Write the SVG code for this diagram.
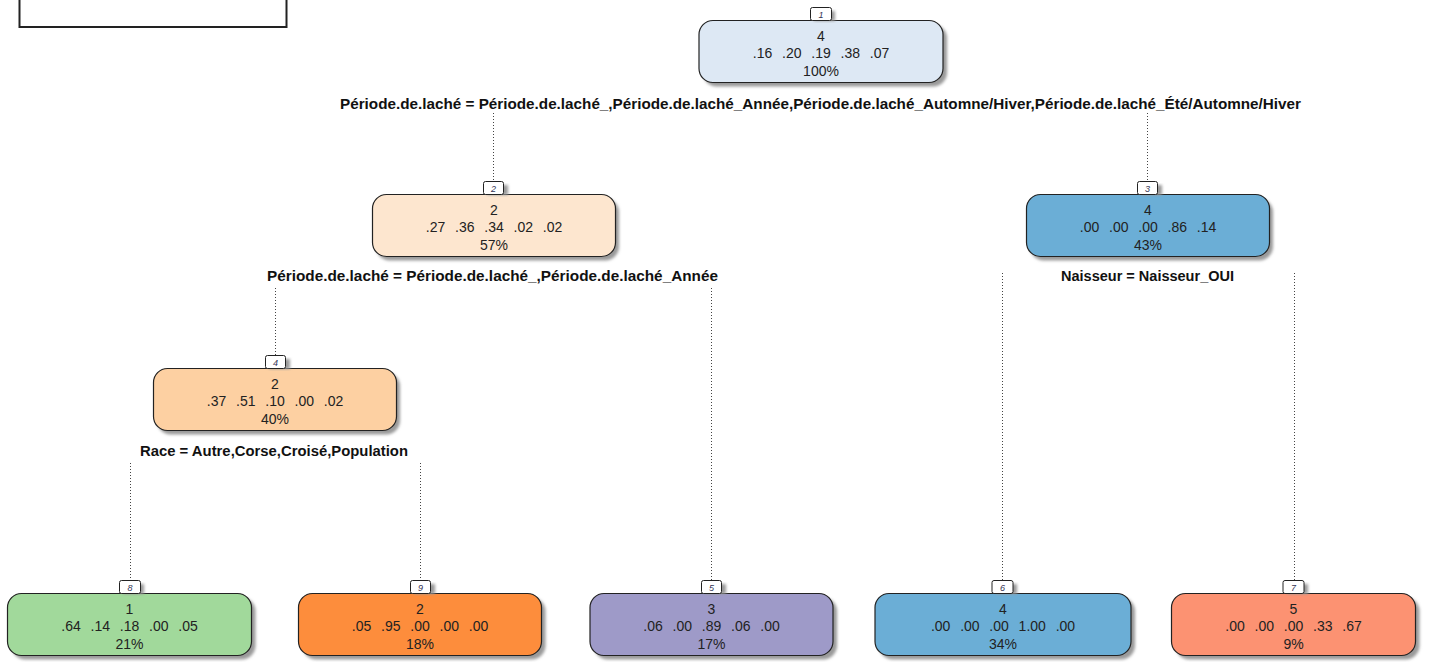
<svg xmlns="http://www.w3.org/2000/svg" width="1429" height="662" viewBox="0 0 1429 662">
<style>
.box{stroke:#222;stroke-width:1.2}
.sh{fill:#9a9a9a;filter:url(#blur)}
.lbl{fill:#fff;stroke:#222;stroke-width:1}
.num{font-family:"Liberation Sans",Arial,sans-serif;font-size:9px;font-style:italic;fill:#335;text-anchor:middle}
.t{font-family:"Liberation Sans",Arial,sans-serif;font-size:14px;fill:#222;text-anchor:middle;white-space:pre}
.r{word-spacing:1px}
.split{font-family:"Liberation Sans",Arial,sans-serif;font-size:14.5px;font-weight:bold;fill:#111;text-anchor:middle}
.dot{stroke:#444;stroke-width:1;stroke-dasharray:1 2;fill:none}
</style>
<defs>
<filter id="blur" x="-10%" y="-20%" width="120%" height="140%"><feGaussianBlur stdDeviation="1.5"/></filter>
</defs>
<rect width="1429" height="662" fill="#fff"/>
<rect x="19.5" y="-10" width="267" height="37" fill="#fff" stroke="#222" stroke-width="2"/>

<g id="connectors">
<line class="dot" x1="493.5" y1="113" x2="493.5" y2="181"/>
<line class="dot" x1="1147.5" y1="113" x2="1147.5" y2="181"/>
<line class="dot" x1="275.5" y1="288" x2="275.5" y2="355"/>
<line class="dot" x1="711.5" y1="288" x2="711.5" y2="580"/>
<line class="dot" x1="1002.5" y1="273" x2="1002.5" y2="580"/>
<line class="dot" x1="1294.5" y1="273" x2="1294.5" y2="580"/>
<line class="dot" x1="130.5" y1="463" x2="130.5" y2="580"/>
<line class="dot" x1="420.5" y1="463" x2="420.5" y2="580"/>
</g>

<g id="node1">
<rect class="sh" x="703" y="24.5" width="244" height="62" rx="14"/>
<rect class="box" x="699" y="20.5" width="244" height="62" rx="14" fill="#dde8f4"/>
<rect class="sh" x="814" y="11" width="21" height="10"/>
<rect class="lbl" x="810.5" y="7.5" width="21" height="13" rx="2"/>
<text class="num" x="821" y="17.5">1</text>
<text class="t" x="821" y="41">4</text>
<text class="t r" x="821" y="58">.16  .20  .19  .38  .07</text>
<text class="t" x="821" y="75.5">100%</text>
<text class="split" x="820.5" y="109" textLength="961" lengthAdjust="spacingAndGlyphs">Période.de.laché = Période.de.laché_,Période.de.laché_Année,Période.de.laché_Automne/Hiver,Période.de.laché_Été/Automne/Hiver</text>
</g>

<g id="node2">
<rect class="sh" x="376" y="198.5" width="243" height="62" rx="14"/>
<rect class="box" x="372.5" y="194.5" width="243" height="62" rx="14" fill="#fde6cf"/>
<rect class="sh" x="487" y="185" width="21" height="10"/>
<rect class="lbl" x="483.5" y="181.5" width="20" height="13" rx="2"/>
<text class="num" x="493.5" y="191.5">2</text>
<text class="t" x="494" y="214.5">2</text>
<text class="t r" x="494" y="232">.27  .36  .34  .02  .02</text>
<text class="t" x="494" y="249.5">57%</text>
<text class="split" x="492.5" y="281" textLength="451" lengthAdjust="spacingAndGlyphs">Période.de.laché = Période.de.laché_,Période.de.laché_Année</text>
</g>

<g id="node3">
<rect class="sh" x="1030" y="198.5" width="243" height="62" rx="14"/>
<rect class="box" x="1026.5" y="194.5" width="243" height="62" rx="14" fill="#6baed6"/>
<rect class="sh" x="1141" y="185" width="21" height="10"/>
<rect class="lbl" x="1137.5" y="181.5" width="20" height="13" rx="2"/>
<text class="num" x="1147.5" y="191.5">3</text>
<text class="t" x="1148" y="214.5">4</text>
<text class="t r" x="1148" y="232">.00  .00  .00  .86  .14</text>
<text class="t" x="1148" y="249.5">43%</text>
<text class="split" x="1147.5" y="281" textLength="173" lengthAdjust="spacingAndGlyphs">Naisseur = Naisseur_OUI</text>
</g>

<g id="node4">
<rect class="sh" x="157" y="372.5" width="243" height="62" rx="14"/>
<rect class="box" x="153.5" y="368.5" width="243" height="62" rx="14" fill="#fdd0a2"/>
<rect class="sh" x="269" y="359" width="21" height="10"/>
<rect class="lbl" x="265.5" y="355.5" width="20" height="13" rx="2"/>
<text class="num" x="275.5" y="365.5">4</text>
<text class="t" x="275" y="388.5">2</text>
<text class="t r" x="275" y="406">.37  .51  .10  .00  .02</text>
<text class="t" x="275" y="423.5">40%</text>
<text class="split" x="274" y="456" textLength="268" lengthAdjust="spacingAndGlyphs">Race = Autre,Corse,Croisé,Population</text>
</g>

<g id="node8">
<rect class="sh" x="11.5" y="597.5" width="244" height="62" rx="14"/>
<rect class="box" x="7.5" y="593.5" width="244" height="62" rx="14" fill="#a1d99b"/>
<rect class="sh" x="123" y="584" width="21" height="10"/>
<rect class="lbl" x="119.5" y="580.5" width="21" height="13" rx="2"/>
<text class="num" x="130" y="590.5">8</text>
<text class="t" x="129.5" y="613.5">1</text>
<text class="t r" x="129.5" y="631">.64  .14  .18  .00  .05</text>
<text class="t" x="129.5" y="648.5">21%</text>
</g>

<g id="node9">
<rect class="sh" x="302.5" y="597.5" width="243" height="62" rx="14"/>
<rect class="box" x="298.5" y="593.5" width="243" height="62" rx="14" fill="#fd8d3c"/>
<rect class="sh" x="414" y="584" width="21" height="10"/>
<rect class="lbl" x="410.5" y="580.5" width="20" height="13" rx="2"/>
<text class="num" x="420.5" y="590.5">9</text>
<text class="t" x="420" y="613.5">2</text>
<text class="t r" x="420" y="631">.05  .95  .00  .00  .00</text>
<text class="t" x="420" y="648.5">18%</text>
</g>

<g id="node5">
<rect class="sh" x="594" y="597.5" width="243" height="62" rx="14"/>
<rect class="box" x="590" y="593.5" width="243" height="62" rx="14" fill="#9e9ac8"/>
<rect class="sh" x="705" y="584" width="21" height="10"/>
<rect class="lbl" x="701.5" y="580.5" width="20" height="13" rx="2"/>
<text class="num" x="711.5" y="590.5">5</text>
<text class="t" x="711.5" y="613.5">3</text>
<text class="t r" x="711.5" y="631">.06  .00  .89  .06  .00</text>
<text class="t" x="711.5" y="648.5">17%</text>
</g>

<g id="node6">
<rect class="sh" x="879" y="597.5" width="256" height="62" rx="14"/>
<rect class="box" x="875" y="593.5" width="256" height="62" rx="14" fill="#6baed6"/>
<rect class="sh" x="996" y="584" width="21" height="10"/>
<rect class="lbl" x="992" y="580.5" width="21" height="13" rx="2"/>
<text class="num" x="1002.5" y="590.5">6</text>
<text class="t" x="1003" y="613.5">4</text>
<text class="t r" x="1003" y="631">.00  .00  .00  1.00  .00</text>
<text class="t" x="1003" y="648.5">34%</text>
</g>

<g id="node7">
<rect class="sh" x="1175.5" y="597.5" width="244" height="62" rx="14"/>
<rect class="box" x="1171.5" y="593.5" width="244" height="62" rx="14" fill="#fc9272"/>
<rect class="sh" x="1287" y="584" width="21" height="10"/>
<rect class="lbl" x="1283" y="580.5" width="21" height="13" rx="2"/>
<text class="num" x="1293.5" y="590.5">7</text>
<text class="t" x="1293.5" y="613.5">5</text>
<text class="t r" x="1293.5" y="631">.00  .00  .00  .33  .67</text>
<text class="t" x="1293.5" y="648.5">9%</text>
</g>
</svg>
